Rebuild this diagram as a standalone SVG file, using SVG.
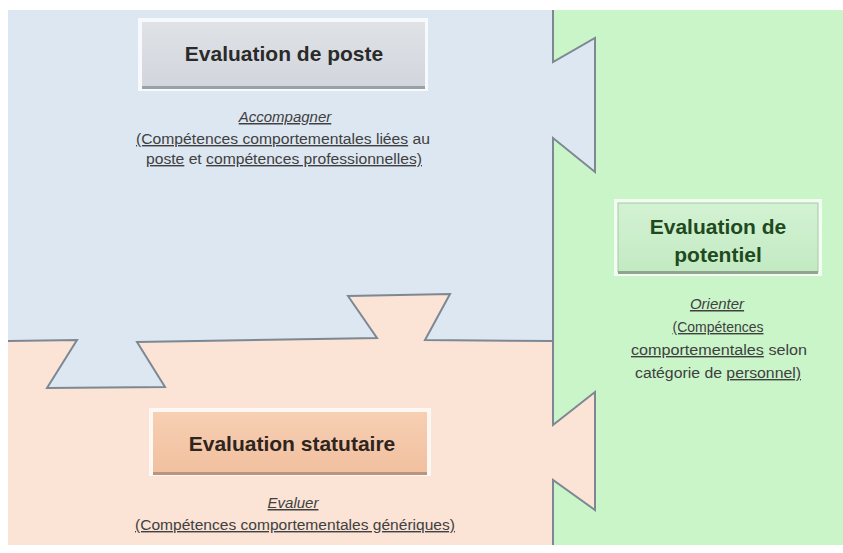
<svg xmlns="http://www.w3.org/2000/svg" width="843" height="553" viewBox="0 0 843 553">
<defs>
<style>
.bnd{fill:none;stroke:#7d8893;stroke-width:2;stroke-linejoin:miter}
.title{font-family:"Liberation Sans",Arial,sans-serif;font-weight:bold;font-size:21px;text-anchor:middle}
.sub{font-family:"Liberation Sans",Arial,sans-serif;font-size:15px;font-style:italic;text-anchor:middle;fill:#404040;text-decoration:underline}
.desc{font-family:"Liberation Sans",Arial,sans-serif;font-size:14px;text-anchor:middle;fill:#404040}
.u{text-decoration:underline}
.glow{fill:#ffffff;opacity:0.75}
</style>
<linearGradient id="gGray" x1="0" y1="0" x2="0" y2="1">
<stop offset="0" stop-color="#dfe2e7"/><stop offset="1" stop-color="#d2d6dc"/>
</linearGradient>
<linearGradient id="gPeach" x1="0" y1="0" x2="0" y2="1">
<stop offset="0" stop-color="#f7cfb3"/><stop offset="1" stop-color="#f1c09f"/>
</linearGradient>
<linearGradient id="gGreen" x1="0" y1="0" x2="0" y2="1">
<stop offset="0" stop-color="#d3f2d3"/><stop offset="1" stop-color="#c3eac3"/>
</linearGradient>
</defs>
<rect x="0" y="0" width="843" height="553" fill="#ffffff"/>
<g id="regions">
<rect x="553" y="10" width="290" height="535" fill="#c9f5c9"/>
<path fill="#dde7f2" d="M8,10 H553 V62 L595,38 V172 L553,138 V341 L425,340 L450,294 L348,296 L377,338 L137,342 L165,387 L47,388 L77,340 L8,341 Z"/>
<path fill="#fbe3d6" d="M8,341 L77,340 L47,388 L165,387 L137,342 L377,338 L348,296 L450,294 L425,340 L553,341 V425 L595,392 V510 L553,480 V545 H8 Z"/>
</g>
<g id="connectors">
<path class="bnd" d="M553,10 V62 L595,38 V172 L553,138 V425 L595,392 V510 L553,480 V545"/>
<path class="bnd" d="M8,341 L77,340 L47,388 L165,387 L137,342 L377,338 L348,296 L450,294 L425,340 L553,341"/>
</g>
<g id="node-poste">
<rect class="glow" x="138" y="18" width="290" height="73"/>
<rect x="142" y="22" width="283" height="65" fill="url(#gGray)"/>
<rect x="142" y="86" width="283" height="3" fill="#9aa0a8"/>
<text class="title" x="284" y="61" fill="#2a2a2a">Evaluation de poste</text>
<text class="sub" x="285" y="122">Accompagner</text>
<text class="desc" x="283" y="144" textLength="294" lengthAdjust="spacingAndGlyphs"><tspan class="u">(Compétences comportementales liées</tspan> au</text>
<text class="desc" x="284" y="164" textLength="276" lengthAdjust="spacingAndGlyphs"><tspan class="u">poste</tspan> et <tspan class="u">compétences professionnelles)</tspan></text>
</g>
<g id="node-potentiel">
<rect class="glow" x="614" y="199" width="208" height="77"/>
<rect x="618" y="203" width="200" height="69" fill="url(#gGreen)" stroke="#a7c8a7" stroke-width="1"/>
<rect x="618" y="271" width="200" height="3" fill="#8fa58f"/>
<text class="title" x="718" y="234" fill="#1e4a1e">Evaluation de</text>
<text class="title" x="718" y="262" fill="#1e4a1e">potentiel</text>
<text class="sub" x="717" y="309">Orienter</text>
<text class="desc" x="718" y="332"><tspan class="u">(Compétences</tspan></text>
<text class="desc" x="719" y="355" textLength="176" lengthAdjust="spacingAndGlyphs"><tspan class="u">comportementales</tspan> selon</text>
<text class="desc" x="718" y="378" textLength="166" lengthAdjust="spacingAndGlyphs">catégorie de <tspan class="u">personnel)</tspan></text>
</g>
<g id="node-statutaire">
<rect class="glow" x="149" y="408" width="282" height="68"/>
<rect x="153" y="412" width="274" height="61" fill="url(#gPeach)"/>
<rect x="153" y="472" width="274" height="3" fill="#b7957e"/>
<text class="title" x="292" y="451" fill="#2e2420">Evaluation statutaire</text>
<text class="sub" x="293" y="508">Evaluer</text>
<text class="desc" x="295" y="530" textLength="320" lengthAdjust="spacingAndGlyphs"><tspan class="u">(Compétences comportementales génériques)</tspan></text>
</g>
</svg>
